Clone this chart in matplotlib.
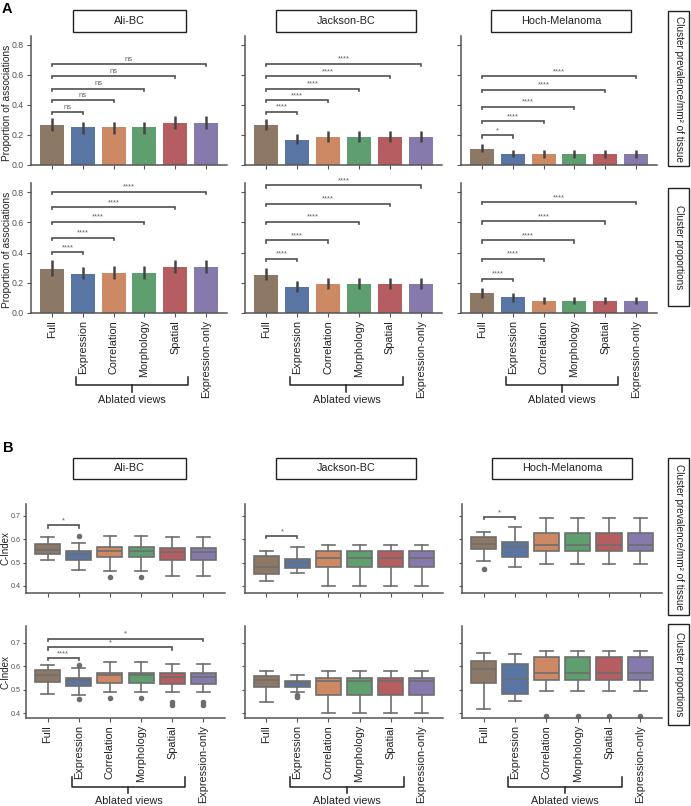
import matplotlib
matplotlib.use("Agg")
import matplotlib.pyplot as plt
import matplotlib.transforms as mtransforms
from matplotlib.patches import Rectangle
import seaborn as sns

plt.rcParams['font.family'] = ['Liberation Sans', 'DejaVu Sans']

# ---------------- data ----------------
categories = ['Full', 'Expression', 'Correlation', 'Morphology', 'Spatial', 'Expression-only']
datasets = ['Ali-BC', 'Jackson-BC', 'Hoch-Melanoma']
row_labels = ['Cluster prevalence/mm² of tissue', 'Cluster proportions']

# Panel A: bar means and CI (lo, hi)
prev_ali_mean = [0.265, 0.254, 0.254, 0.254, 0.281, 0.281]
prev_ali_lo = [0.227, 0.209, 0.209, 0.209, 0.243, 0.243]
prev_ali_hi = [0.316, 0.287, 0.287, 0.287, 0.327, 0.327]
prev_jackson_mean = [0.269, 0.165, 0.187, 0.187, 0.187, 0.187]
prev_jackson_lo = [0.232, 0.143, 0.154, 0.154, 0.154, 0.154]
prev_jackson_hi = [0.310, 0.209, 0.225, 0.225, 0.225, 0.225]
prev_hoch_mean = [0.109, 0.076, 0.071, 0.071, 0.071, 0.071]
prev_hoch_lo = [0.087, 0.053, 0.049, 0.049, 0.049, 0.049]
prev_hoch_hi = [0.138, 0.102, 0.098, 0.098, 0.098, 0.098]

prop_ali_mean = [0.293, 0.261, 0.264, 0.264, 0.304, 0.304]
prop_ali_lo = [0.246, 0.223, 0.223, 0.223, 0.264, 0.264]
prop_ali_hi = [0.349, 0.304, 0.308, 0.308, 0.353, 0.353]
prop_jackson_mean = [0.253, 0.174, 0.192, 0.192, 0.192, 0.192]
prop_jackson_lo = [0.219, 0.141, 0.159, 0.159, 0.159, 0.159]
prop_jackson_hi = [0.297, 0.212, 0.230, 0.230, 0.230, 0.230]
prop_hoch_mean = [0.130, 0.103, 0.078, 0.078, 0.078, 0.078]
prop_hoch_lo = [0.096, 0.074, 0.058, 0.058, 0.058, 0.058]
prop_hoch_hi = [0.163, 0.134, 0.107, 0.107, 0.107, 0.107]

# significance brackets: (compared category index vs Full, height, label)
prev_ali_sig = [(1, 0.354, 'ns'), (2, 0.432, 'ns'), (3, 0.510, 'ns'), (4, 0.592, 'ns'), (5, 0.673, 'ns')]
prev_jackson_sig = [(1, 0.354, '****'), (2, 0.432, '****'), (3, 0.510, '****'), (4, 0.592, '****'), (5, 0.673, '****')]
prev_hoch_sig = [(1, 0.198, '*'), (2, 0.292, '****'), (3, 0.388, '****'), (4, 0.500, '****'), (5, 0.592, '****')]
prop_ali_sig = [(1, 0.402, '****'), (2, 0.498, '****'), (3, 0.603, '****'), (4, 0.700, '****'), (5, 0.800, '****')]
prop_jackson_sig = [(1, 0.360, '****'), (2, 0.480, '****'), (3, 0.603, '****'), (4, 0.722, '****'), (5, 0.845, '****')]
prop_hoch_sig = [(1, 0.228, '****'), (2, 0.358, '****'), (3, 0.480, '****'), (4, 0.606, '****'), (5, 0.733, '****')]

# Panel B: box stats (whislo, q1, median, q3, whishi, fliers)
cidx_prev_ali = [(0.509, 0.536, 0.554, 0.578, 0.611, []),
                 (0.469, 0.509, 0.535, 0.550, 0.583, [0.614]),
                 (0.465, 0.522, 0.551, 0.568, 0.615, [0.438]),
                 (0.465, 0.522, 0.551, 0.568, 0.615, [0.438]),
                 (0.444, 0.512, 0.543, 0.561, 0.607, []),
                 (0.444, 0.512, 0.543, 0.561, 0.607, [])]
cidx_prev_jackson = [(0.423, 0.452, 0.483, 0.530, 0.551, []),
                     (0.455, 0.476, 0.500, 0.516, 0.568, []),
                     (0.401, 0.479, 0.519, 0.550, 0.575, []),
                     (0.401, 0.479, 0.519, 0.550, 0.575, []),
                     (0.401, 0.479, 0.519, 0.550, 0.575, []),
                     (0.401, 0.479, 0.519, 0.550, 0.575, [])]
cidx_prev_hoch = [(0.508, 0.557, 0.580, 0.611, 0.632, [0.472]),
                  (0.483, 0.523, 0.568, 0.587, 0.650, []),
                  (0.495, 0.551, 0.575, 0.625, 0.689, []),
                  (0.495, 0.551, 0.575, 0.625, 0.689, []),
                  (0.495, 0.551, 0.575, 0.625, 0.689, []),
                  (0.495, 0.551, 0.575, 0.625, 0.689, [])]
cidx_prop_ali = [(0.483, 0.533, 0.564, 0.583, 0.604, []),
                 (0.476, 0.514, 0.543, 0.551, 0.590, [0.604, 0.459]),
                 (0.490, 0.530, 0.564, 0.571, 0.619, [0.464]),
                 (0.490, 0.530, 0.564, 0.571, 0.619, [0.464]),
                 (0.490, 0.526, 0.554, 0.569, 0.607, [0.447, 0.437]),
                 (0.490, 0.526, 0.554, 0.569, 0.607, [0.447, 0.437])]
cidx_prop_jackson = [(0.446, 0.510, 0.542, 0.559, 0.580, []),
                     (0.492, 0.510, 0.527, 0.535, 0.562, [0.478, 0.468]),
                     (0.401, 0.479, 0.538, 0.549, 0.580, []),
                     (0.401, 0.479, 0.538, 0.549, 0.580, []),
                     (0.401, 0.479, 0.538, 0.549, 0.580, []),
                     (0.401, 0.479, 0.538, 0.549, 0.580, [])]
cidx_prop_hoch = [(0.418, 0.527, 0.587, 0.620, 0.655, []),
                  (0.451, 0.482, 0.545, 0.608, 0.651, []),
                  (0.496, 0.542, 0.569, 0.637, 0.665, [0.390]),
                  (0.496, 0.542, 0.569, 0.637, 0.665, [0.390]),
                  (0.496, 0.542, 0.569, 0.637, 0.665, [0.390]),
                  (0.496, 0.542, 0.569, 0.637, 0.665, [0.390])]

cidx_prev_ali_sig = [(1, 0.660, '*')]
cidx_prev_jackson_sig = [(1, 0.614, '*')]
cidx_prev_hoch_sig = [(1, 0.696, '*')]
cidx_prop_ali_sig = [(1, 0.635, '****'), (4, 0.680, '*'), (5, 0.717, '*')]
cidx_prop_jackson_sig = []
cidx_prop_hoch_sig = []

# ---------------- styling ----------------
base = sns.color_palette('deep')
palette = [sns.desaturate(c, 0.75) for c in [base[5], base[0], base[1], base[2], base[3], base[4]]]
SPINE = '#555555'
TXT = '#555555'

W, H = 691, 806
fig = plt.figure(figsize=(W / 100, H / 100), dpi=100)


def add_ax(x0, x1, y0, y1):
    return fig.add_axes([x0 / W, 1 - y1 / H, (x1 - x0) / W, (y1 - y0) / H])


def style(ax, ylim, yticks, show_ylab, show_xlab, ytick_fs):
    for s in ['top', 'right']:
        ax.spines[s].set_visible(False)
    for s in ['left', 'bottom']:
        ax.spines[s].set_color(SPINE)
        ax.spines[s].set_linewidth(1.1)
    ax.set_xlim(-0.69, 5.69)
    ax.set_ylim(*ylim)
    ax.set_yticks(yticks)
    ax.set_xticks(range(len(categories)))
    ax.tick_params(axis='both', colors=SPINE, length=3, width=0.8, labelcolor=TXT, pad=2)
    ax.tick_params(axis='y', labelsize=ytick_fs)
    if show_ylab:
        ax.set_yticklabels([f'{t:.1f}' for t in yticks])
    else:
        ax.set_yticklabels([])
    if show_xlab:
        ax.set_xticklabels(categories, rotation=90, fontsize=7.8, color='#222222')
    else:
        ax.set_xticklabels([])
    ax.patch.set_alpha(0)


def brackets(ax, sig, leg, gap, fs):
    for j, h, lab in sig:
        ax.plot([0, 0, j, j], [h - leg, h, h, h - leg], color='#505050', lw=1.2,
                clip_on=False, solid_joinstyle='miter')
        ax.text(j / 2, h + gap, lab, ha='center', va='bottom', fontsize=fs,
                color='#606060', clip_on=False)


def title_box(x0, x1, y0, y1, text):
    fig.add_artist(Rectangle((x0 / W, 1 - y1 / H), (x1 - x0) / W, (y1 - y0) / H,
                             transform=fig.transFigure, fill=False, ec='#222222', lw=1.0))
    fig.text((x0 + x1) / 2 / W, 1 - (y0 + y1) / 2 / H, text, ha='center', va='center',
             fontsize=7.8, color='#222222')


def row_box(x0, x1, y0, y1, text):
    fig.add_artist(Rectangle((x0 / W, 1 - y1 / H), (x1 - x0) / W, (y1 - y0) / H,
                             transform=fig.transFigure, fill=False, ec='#222222', lw=1.0))
    fig.text((x0 + x1) / 2 / W, 1 - (y0 + y1) / 2 / H, text, ha='center', va='center',
             fontsize=7.2, color='#222222', rotation=270)


def ylab(xpx, y0, y1, text, fs):
    fig.text(xpx / W, 1 - (y0 + y1) / 2 / H, text, ha='center', va='center',
             fontsize=fs, color='#222222', rotation=90)


def ablated(ax, yb_px):
    tr = mtransforms.blended_transform_factory(ax.transData, fig.transFigure)
    xl, xr = 0.77, 4.42
    yt = 1 - yb_px[0] / H
    ym = 1 - yb_px[1] / H
    yc = 1 - yb_px[2] / H
    ax.plot([xl, xl, xr, xr], [yt, ym, ym, yt], color='#222222', lw=1.1, transform=tr, clip_on=False)
    xc = (xl + xr) / 2
    ax.plot([xc, xc], [ym, yc], color='#222222', lw=1.1, transform=tr, clip_on=False)
    ax.text(xc, 1 - yb_px[3] / H, 'Ablated views', ha='center', va='center', fontsize=7.8,
            color='#222222', transform=tr)


# ---------------- Panel A ----------------
a_x = [(31, 227), (245, 442), (461, 657)]
a_rows = [(36, 165), (183, 313)]
bar_data = [
    [(prev_ali_mean, prev_ali_lo, prev_ali_hi, prev_ali_sig),
     (prev_jackson_mean, prev_jackson_lo, prev_jackson_hi, prev_jackson_sig),
     (prev_hoch_mean, prev_hoch_lo, prev_hoch_hi, prev_hoch_sig)],
    [(prop_ali_mean, prop_ali_lo, prop_ali_hi, prop_ali_sig),
     (prop_jackson_mean, prop_jackson_lo, prop_jackson_hi, prop_jackson_sig),
     (prop_hoch_mean, prop_hoch_lo, prop_hoch_hi, prop_hoch_sig)],
]
xs = list(range(len(categories)))
for r, (y0, y1) in enumerate(a_rows):
    for c, (x0, x1) in enumerate(a_x):
        ax = add_ax(x0, x1, y0, y1)
        mean, lo, hi, sig = bar_data[r][c]
        ax.bar(xs, mean, width=0.78, color=palette, edgecolor='none', zorder=2)
        ax.vlines(xs, lo, hi, color='#444444', lw=1.8, zorder=3)
        style(ax, (0, 0.86), [0.0, 0.2, 0.4, 0.6, 0.8], c == 0, r == 1, 6.3)
        brackets(ax, sig, 0.015, 0.008, 5.5)
        if c == 0:
            ylab(7.5, y0 + 4, y1, 'Proportion of associations', 7.3)
        if r == 1:
            ablated(ax, (377, 385, 392, 400))

# ---------------- Panel B ----------------
b_x = [(26, 225), (245, 443), (462, 662)]
b_rows = [((504, 593), (0.37, 0.75)), ((626, 718), (0.38, 0.77))]
box_data = [
    [(cidx_prev_ali, cidx_prev_ali_sig), (cidx_prev_jackson, cidx_prev_jackson_sig),
     (cidx_prev_hoch, cidx_prev_hoch_sig)],
    [(cidx_prop_ali, cidx_prop_ali_sig), (cidx_prop_jackson, cidx_prop_jackson_sig),
     (cidx_prop_hoch, cidx_prop_hoch_sig)],
]
LINE = '#6e6e6e'
for r, ((y0, y1), ylim) in enumerate(b_rows):
    for c, (x0, x1) in enumerate(b_x):
        ax = add_ax(x0, x1, y0, y1)
        stats, sig = box_data[r][c]
        bstats = [dict(whislo=s[0], q1=s[1], med=s[2], q3=s[3], whishi=s[4], fliers=s[5])
                  for s in stats]
        bp = ax.bxp(bstats, positions=xs, widths=0.8, patch_artist=True, showfliers=True,
                    boxprops=dict(edgecolor=LINE, linewidth=1.2),
                    whiskerprops=dict(color=LINE, linewidth=1.2),
                    capprops=dict(color=LINE, linewidth=1.2),
                    medianprops=dict(color=LINE, linewidth=1.2),
                    flierprops=dict(marker='o', markersize=3, markerfacecolor=LINE,
                                    markeredgecolor=LINE, linestyle='none'),
                    capwidths=0.4)
        for patch, col in zip(bp['boxes'], palette):
            patch.set_facecolor(col)
        style(ax, ylim, [0.4, 0.5, 0.6, 0.7], c == 0, r == 1, 5.2)
        ax.tick_params(axis='y', length=2.5, pad=1.5)
        brackets(ax, sig, 0.011, 0.003, 5.5)
        if c == 0:
            ylab(5.5, y0, y1, 'C-Index', 7.0)
        if r == 1:
            ablated(ax, (777, 787, 793, 801))

# ---------------- titles / labels ----------------
title_box(73, 186, 10, 32, datasets[0])
title_box(276, 416, 10, 32, datasets[1])
title_box(491, 631, 10, 32, datasets[2])
title_box(73, 186, 458, 479, datasets[0])
title_box(276, 416, 458, 479, datasets[1])
title_box(492, 632, 458, 479, datasets[2])

row_box(668, 689, 11, 166, row_labels[0])
row_box(668, 689, 188, 306, row_labels[1])
row_box(668, 689, 458, 615, row_labels[0])
row_box(668, 689, 624, 725, row_labels[1])

fig.text(2 / W, 1 - 2 / H, 'A', ha='left', va='top', fontsize=10.5, fontweight='bold')
fig.text(3 / W, 1 - 441 / H, 'B', ha='left', va='top', fontsize=10.5, fontweight='bold')

fig.savefig('out.png', dpi=100)
